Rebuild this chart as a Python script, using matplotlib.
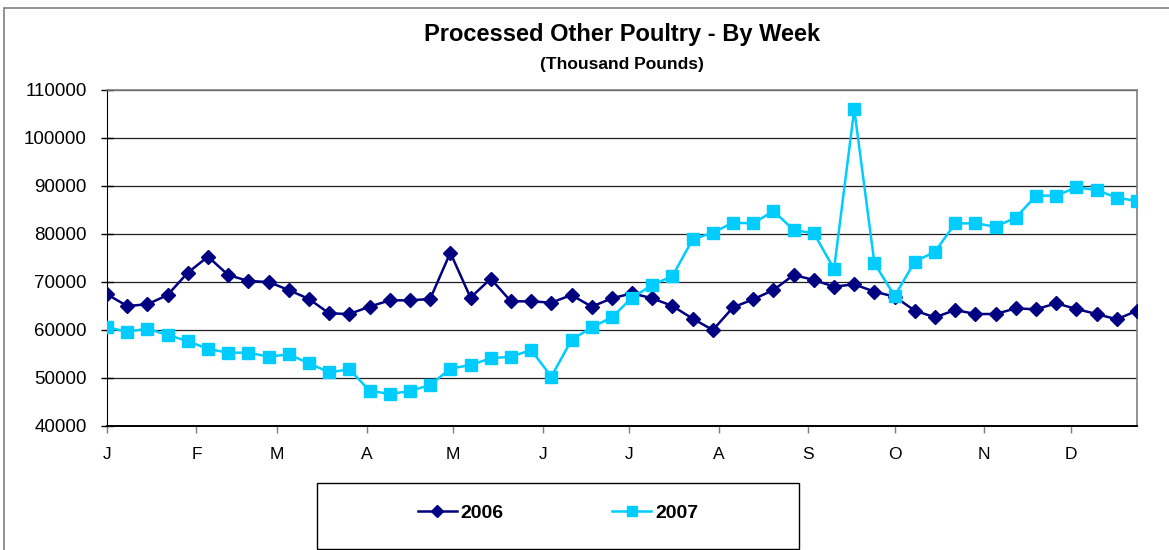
import matplotlib
matplotlib.use("Agg")
import matplotlib.pyplot as plt
from matplotlib.patches import Rectangle

plt.rcParams['font.family'] = ['Liberation Sans', 'DejaVu Sans']

month_labels = ["J", "F", "M", "A", "M", "J", "J", "A", "S", "O", "N", "D"]
month_start_days = [0, 31, 59, 90, 120, 151, 181, 212, 243, 273, 304, 334]

y2006 = [67430, 65000, 65350, 67290, 71940, 75280, 71460, 70210, 70000, 68330,
         66460, 63470, 63330, 64860, 66180, 66180, 66460, 76110, 66740, 70690,
         65970, 65970, 65700, 67290, 64860, 66600, 67640, 66600, 65000, 62360,
         60000, 64720, 66390, 68330, 71460, 70420, 69030, 69510, 67990, 66940,
         64030, 62640, 64170, 63330, 63330, 64510, 64310, 65560, 64380, 63330,
         62220, 64030]
y2007 = [60560, 59650, 60280, 58960, 57710, 56040, 55280, 55280, 54440, 54930,
         53060, 51180, 51800, 47360, 46670, 47290, 48540, 51940, 52710, 54100,
         54440, 55830, 50280, 57920, 60560, 62640, 66740, 69380, 71250, 78890,
         80280, 82360, 82220, 84790, 80830, 80140, 72710, 105970, 73890, 67080,
         74240, 76320, 82220, 82220, 81530, 83400, 87990, 87990, 89720, 89170,
         87570, 86880]
series_names = ["2006", "2007"]

W, H = 1169, 550
fig = plt.figure(figsize=(W / 100, H / 100), dpi=100)

# outer chart border
fig.patches.append(Rectangle((4 / W, -0.01), 1.2, (550 - 8) / H + 0.01,
                             transform=fig.transFigure, fill=False,
                             edgecolor='#7f7f7f', linewidth=1.2))
# legend box
fig.patches.append(Rectangle((317 / W, 1 - 549 / H), 482 / W, 66 / H,
                             transform=fig.transFigure, fill=False,
                             edgecolor='black', linewidth=1.0))

ax = fig.add_axes([107 / W, 1 - 426 / H, (1137 - 107) / W, (426 - 90) / H])

weeks = list(range(len(y2006)))
ax.plot(weeks, y2006, color='#000080', marker='D', markersize=7, linewidth=1.8,
        label=series_names[0], zorder=3)
ax.plot(weeks, y2007, color='#00CCFF', marker='s', markersize=8, linewidth=1.8,
        label=series_names[1], zorder=3)

ax.set_xlim(0, 51)
ax.set_ylim(40000, 110000)
ax.set_yticks(range(40000, 110001, 10000))
ax.set_yticklabels([str(v) for v in range(40000, 110001, 10000)], fontsize=13.5)
ax.set_xticks([d / 7 for d in month_start_days])
ax.set_xticklabels(month_labels, fontsize=12.5)
ax.tick_params(axis='y', direction='inout', length=9, width=1, pad=10)
ax.tick_params(axis='x', direction='out', length=5, width=1, pad=10,
               color='#7f7f7f')
ax.grid(axis='y', color='#202020', linewidth=0.9, zorder=0)
for s in ['top', 'right']:
    ax.spines[s].set_color('#7f7f7f')
    ax.spines[s].set_linewidth(1.2)
ax.spines['left'].set_color('black')
ax.spines['bottom'].set_color('black')
ax.spines['bottom'].set_linewidth(1.4)

fig.text(622 / W, 1 - 34 / H, "Processed Other Poultry - By Week", ha='center',
         va='center', fontsize=17, fontweight='bold')
fig.text(622 / W, 1 - 64 / H, "(Thousand Pounds)", ha='center', va='center',
         fontsize=12.5, fontweight='bold')

leg = fig.legend(loc='center', bbox_to_anchor=(317 / W, 1 - 546 / H, 482 / W, 66 / H),
                 ncol=2, frameon=False,
                 prop={'weight': 'bold', 'size': 14}, handlelength=2.0,
                 handletextpad=0.2, columnspacing=5.6, borderaxespad=0,
                 markerscale=0.85)

fig.savefig("out.png", dpi=100)
